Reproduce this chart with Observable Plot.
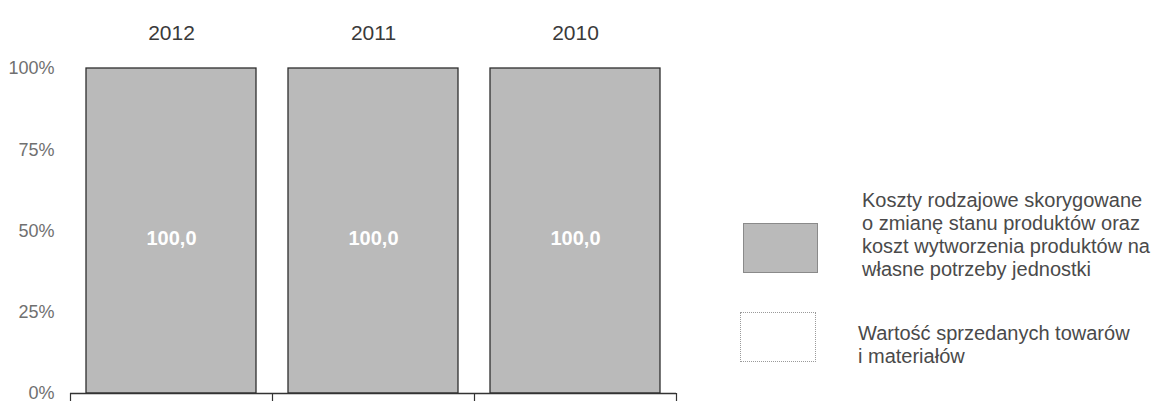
<!DOCTYPE html>
<html>
<head>
<meta charset="utf-8">
<script src="https://cdn.jsdelivr.net/npm/d3@7"></script>
<script src="https://cdn.jsdelivr.net/npm/@observablehq/plot@0.6"></script>
<style>
  html, body { margin: 0; padding: 0; background: #fff; }
  #wrap { position: relative; width: 1159px; height: 408px; overflow: hidden; font-family: "Liberation Sans", Arial, sans-serif; }
  #chart { position: absolute; left: 0; top: 0; }
  .sw { position: absolute; box-sizing: border-box; }
  .lt { position: absolute; color: #4a4a4a; font-size: 20px; line-height: 23px; white-space: nowrap; }
</style>
</head>
<body>
<div id="wrap">
  <div id="chart"></div>
  <div class="sw" id="sw0" style="left:743px; top:223px; width:75px; height:50px;"></div>
  <div class="lt" id="lt0" style="left:862px; top:189px;"></div>
  <div class="sw" id="sw1" style="left:740px; top:312px; width:76px; height:50px;"></div>
  <div class="lt" id="lt1" style="left:858px; top:322px;"></div>
</div>
<script>
const years = ["2012", "2011", "2010"];
const seriesNames = [
  "Koszty rodzajowe skorygowane o zmianę stanu produktów oraz koszt wytworzenia produktów na własne potrzeby jednostki",
  "Wartość sprzedanych towarów i materiałów"
];
const legendLines = [
  ["Koszty rodzajowe skorygowane", "o zmianę stanu produktów oraz", "koszt wytworzenia produktów na", "własne potrzeby jednostki"],
  ["Wartość sprzedanych towarów", "i materiałów"]
];
const costShare = [100.0, 100.0, 100.0];
const goodsShare = [0.0, 0.0, 0.0];
const yTicks = [0, 25, 50, 75, 100];
const seriesColors = ["#bababa", "#ffffff"];

const rows = [];
years.forEach((y, i) => {
  rows.push({year: y, series: seriesNames[0], value: costShare[i]});
  rows.push({year: y, series: seriesNames[1], value: goodsShare[i]});
});
const fmt = v => v.toFixed(1).replace(".", ",");

const W = 700, ML = 70, MR = 24, PI = 0.158, PO = 0.079;
const step = (W - ML - MR) / (years.length - PI + 2 * PO);

const chart = Plot.plot({
  width: W,
  height: 408,
  marginLeft: ML,
  marginRight: MR,
  marginTop: 68,
  marginBottom: 15,
  style: {fontFamily: "'Liberation Sans', Arial, sans-serif", background: "transparent", overflow: "visible"},
  x: {domain: years, paddingInner: PI, paddingOuter: PO, axis: null},
  y: {domain: [0, 100], axis: null},
  color: {domain: seriesNames, range: seriesColors},
  marks: [
    Plot.barY(rows, Plot.stackY({x: "year", y: "value", fill: "series", order: seriesNames, stroke: "#2e2e2e", strokeWidth: 1.3})),
    Plot.text(rows.filter(d => d.value > 0), Plot.stackY({x: "year", y: "value", z: "series", text: d => fmt(d.value), fill: "white", fontWeight: "bold", fontSize: 20, dy: 8})),
    Plot.ruleY([0], {stroke: "#333", strokeWidth: 1.3}),
    Plot.ruleX(years, {x: d => d, y1: 0, y2: 0, insetBottom: -8, dx: -step / 2, stroke: "#333", strokeWidth: 1.2}),
    Plot.ruleX(years.slice(-1), {x: d => d, y1: 0, y2: 0, insetBottom: -8, dx: step / 2, stroke: "#333", strokeWidth: 1.2}),
    Plot.axisY({ticks: yTicks, tickFormat: d => d + "%", tickSize: 0, tickPadding: 16, fontSize: 18, color: "#707070", label: null}),
    Plot.axisX({anchor: "top", tickSize: 0, tickPadding: 29, fontSize: 21, color: "#3a3a3a", label: null})
  ]
});
document.getElementById("chart").appendChild(chart);

const sw0 = document.getElementById("sw0");
sw0.style.background = seriesColors[0];
sw0.style.border = "1px solid #8a8a8a";
const sw1 = document.getElementById("sw1");
sw1.style.background = seriesColors[1];
sw1.style.border = "1px dotted #9a9a9a";
document.getElementById("lt0").innerHTML = legendLines[0].join("<br>");
document.getElementById("lt1").innerHTML = legendLines[1].join("<br>");
</script>
</body>
</html>
